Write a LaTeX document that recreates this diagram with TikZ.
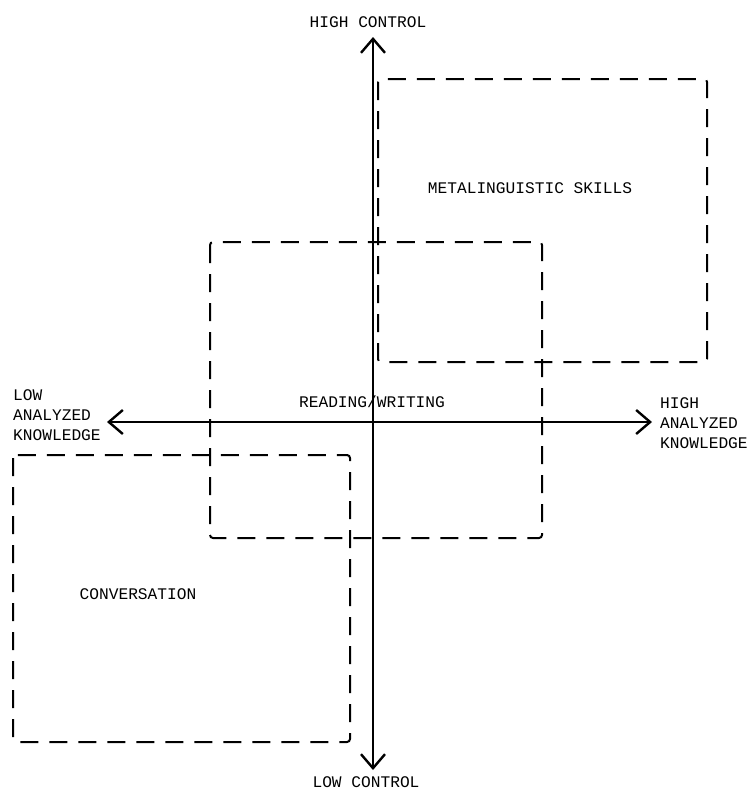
\documentclass[tikz,border=0pt]{standalone}
\usepackage{fontspec}
\setmonofont{Liberation Mono}
\usetikzlibrary{arrows.meta}

\begin{document}
\begin{tikzpicture}[x=1pt, y=-1pt,
    axis/.style={line width=2.6pt, {Straight Barb[length=14pt,width=24pt,line width=2.4pt]}-{Straight Barb[length=14pt,width=24pt,line width=2.4pt]}},
    region/.style={line width=2pt, dash pattern=on 18pt off 11pt, rounded corners=3pt},
    lbl/.style={font=\ttfamily\fontsize{16.2}{20}\selectfont, inner sep=0pt},
  ]
  \useasboundingbox (0,0) rectangle (752,793);

  % Regions
  \draw[region] (378,79) rectangle (707,362);
  \draw[region] (210,242) rectangle (542,538);
  \draw[region] (13,455) rectangle (350,742);

  % Axis ends
  \coordinate (top) at (373,37);
  \coordinate (bottom) at (373,770);
  \coordinate (left) at (107,422);
  \coordinate (right) at (652,422);

  % Axes
  \draw[axis] (bottom) -- (top);
  \draw[axis] (left) -- (right);

  % Axis labels
  \node[lbl] (hc) at (368,22) {HIGH CONTROL};
  \node[lbl] (lc) at (366,782) {LOW CONTROL};
  \node[lbl, anchor=west, align=left] (lak) at (13,415) {LOW\\ANALYZED\\KNOWLEDGE};
  \node[lbl, anchor=west, align=left] (hak) at (660,423) {HIGH\\ANALYZED\\KNOWLEDGE};

  % Region labels
  \node[lbl] (meta) at (530,188) {METALINGUISTIC SKILLS};
  \node[lbl] (rw) at (372,402) {READING/WRITING};
  \node[lbl] (conv) at (138,594) {CONVERSATION};
\end{tikzpicture}
\end{document}
